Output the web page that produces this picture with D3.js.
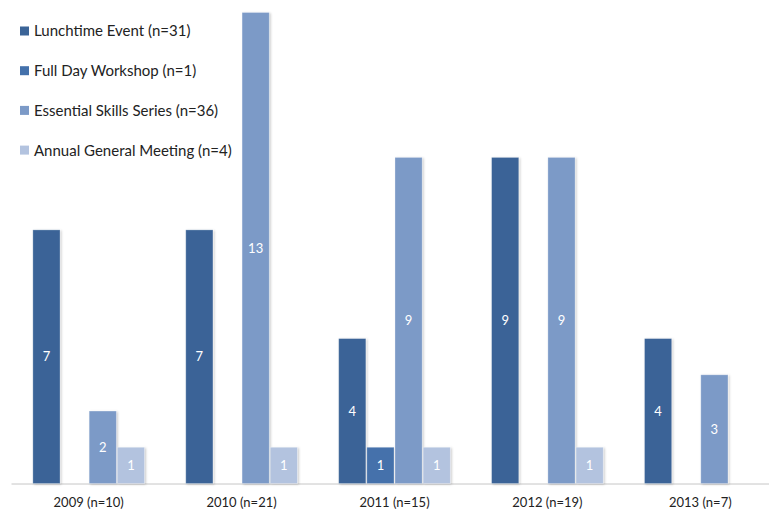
<!DOCTYPE html>
<html>
<head>
<meta charset="utf-8">
<script src="https://cdn.jsdelivr.net/npm/d3@7"></script>
<style>
  html, body { margin: 0; padding: 0; background: #fff; }
  svg { display: block; font-family: Lato, "Open Sans", sans-serif; }
</style>
</head>
<body>
<svg id="chart" width="769" height="510"></svg>
<script>
// Event counts per year, by event type
const years = ["2009 (n=10)", "2010 (n=21)", "2011 (n=15)", "2012 (n=19)", "2013 (n=7)"];
const seriesNames = ["Lunchtime Event (n=31)", "Full Day Workshop (n=1)", "Essential Skills Series (n=36)", "Annual General Meeting (n=4)"];
const lunchtime = [7, 7, 4, 9, 4];
const fullDay   = [0, 0, 1, 0, 0];
const essential = [2, 13, 9, 9, 3];
const agm       = [1, 1, 1, 1, 0];
const colors = ["#3b6497", "#4471ab", "#7c9ac7", "#b3c3df"];

const seriesValues = [lunchtime, fullDay, essential, agm];
const svg = d3.select("#chart");

const x0 = d3.scaleBand().domain(years).range([11, 778]).paddingInner(0.27).paddingOuter(0.143);
const x1 = d3.scaleBand().domain(d3.range(seriesNames.length)).range([0, x0.bandwidth()]).paddingInner(0.035);
const y = d3.scaleLinear().domain([0, 13]).range([483.5, 12.5]);

// soft drop shadow under the bars
const defs = svg.append("defs");
const f = defs.append("filter").attr("id", "shadow").attr("x", "-20%").attr("y", "-5%").attr("width", "150%").attr("height", "115%");
f.append("feDropShadow").attr("dx", 1.2).attr("dy", 0.8).attr("stdDeviation", 0.8).attr("flood-color", "#000").attr("flood-opacity", 0.22);

// baseline axis
const axis = svg.append("g").attr("transform", `translate(0,${y(0)})`)
  .call(d3.axisBottom(x0).tickSize(0).tickPadding(14));
axis.select(".domain").attr("stroke", "#c6c6c6").attr("stroke-width", 1);
axis.selectAll("text").attr("font-size", 13).attr("fill", "#222").attr("font-family", "Lato, sans-serif");

// bars
const groups = svg.append("g").selectAll("g").data(years).join("g")
  .attr("transform", d => `translate(${x0(d)},0)`);

const cells = groups.selectAll("g.cell")
  .data((d, i) => seriesValues.map((vals, s) => ({ s, v: vals[i] })).filter(c => c.v > 0))
  .join("g").attr("class", "cell");

cells.append("rect")
  .attr("x", d => x1(d.s))
  .attr("y", d => y(d.v))
  .attr("width", x1.bandwidth())
  .attr("height", d => y(0) - y(d.v))
  .attr("fill", d => colors[d.s])
  .attr("stroke", "rgba(255,255,255,0.35)")
  .attr("stroke-width", 0.8)
  .attr("filter", "url(#shadow)");

cells.append("text")
  .attr("x", d => x1(d.s) + x1.bandwidth() / 2)
  .attr("y", d => (y(d.v) + y(0)) / 2)
  .attr("dy", "0.36em")
  .attr("text-anchor", "middle")
  .attr("font-size", 13)
  .attr("fill", "#fff")
  .text(d => d.v);

// legend
const legend = svg.append("g").selectAll("g").data(seriesNames).join("g")
  .attr("transform", (d, i) => `translate(20,${31 + i * 39.7})`);
legend.append("rect").attr("x", 0).attr("y", -4.5).attr("width", 9).attr("height", 9)
  .attr("fill", (d, i) => colors[i]);
legend.append("text").attr("x", 14).attr("dy", "0.36em")
  .attr("font-size", 15).attr("fill", "#222").text(d => d);
</script>
</body>
</html>
